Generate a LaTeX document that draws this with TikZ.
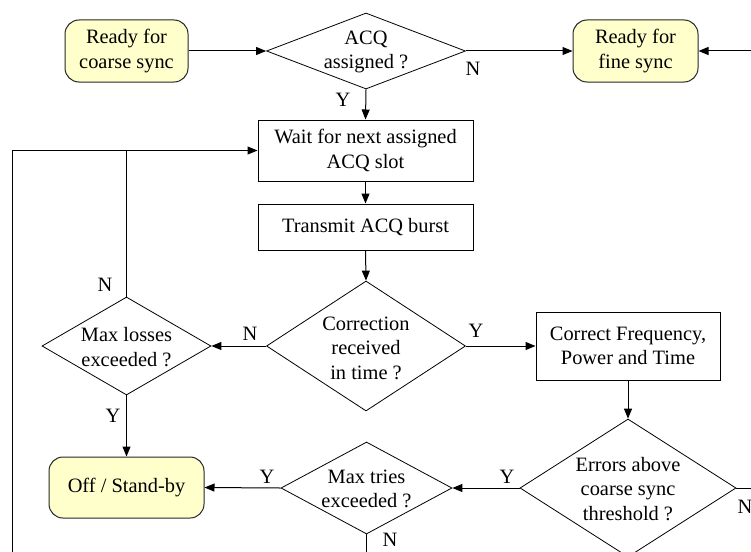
\documentclass[tikz,border=0pt]{standalone}
\usepackage{fontspec}
\setmainfont{Liberation Serif}
\usetikzlibrary{shapes.geometric,arrows.meta}
\definecolor{paleyellow}{RGB}{255,255,204}
\begin{document}
\begin{tikzpicture}[x=1pt,y=-1pt,
  every node/.style={font=\fontsize{20.4}{24.5}\selectfont, inner sep=0pt, align=center},
  line/.style={draw=black, line width=1pt},
  arr/.style={line, -{Triangle[length=10pt,width=8pt]}},
  statebox/.style={draw=black!85, line width=1pt, fill=paleyellow, rounded corners=14pt, rectangle},
  procbox/.style={draw=black, line width=1pt, rectangle},
  decision/.style={draw=black, line width=0.8pt, diamond},
  lbl/.style={anchor=center}
]
\useasboundingbox (0,0) rectangle (751,551);
\clip (0,0) rectangle (751,551);

% shapes
\node[statebox, minimum width=123pt, minimum height=62pt] (coarse) at (126.5,51) {Ready for\\coarse sync};
\node[decision, minimum width=199pt, minimum height=76pt] (acq) at (366,51) {};
\node (acqt) at (366,52) {ACQ\\assigned ?};
\node[statebox, minimum width=125pt, minimum height=62pt] (fine) at (635.5,51) {Ready for\\fine sync};

\node[procbox, minimum width=215pt, minimum height=61pt] (wait) at (365.5,150.5) {Wait for next assigned\\ACQ slot};
\node[procbox, minimum width=215pt, minimum height=46pt] (trans) at (365.5,227) {Transmit ACQ burst};

\node[decision, minimum width=199pt, minimum height=130pt] (corr) at (366,346) {};
\node (corrt) at (366,348) {Correction\\received\\in time ?};

\node[decision, minimum width=169pt, minimum height=98pt] (losses) at (126.5,346) {};
\node (lossest) at (126.5,347) {Max losses\\exceeded ?};

\node[procbox, minimum width=184pt, minimum height=68pt] (freq) at (628,346) {Correct Frequency,\\Power and Time};

\node[statebox, minimum width=155pt, minimum height=61pt] (off) at (126.5,487.5) {Off / Stand-by};

\node[decision, minimum width=171pt, minimum height=92pt] (tries) at (366.5,488) {};
\node (triest) at (366.5,489) {Max tries\\exceeded ?};

\node[decision, minimum width=216pt, minimum height=138pt] (errors) at (628,488) {};
\node (errorst) at (628,489) {Errors above\\coarse sync\\threshold ?};

% free ends
\coordinate (leftbottom) at (12,570);
\coordinate (rightin) at (770,51);
\coordinate (rightout) at (770,488);
\coordinate (triesout) at (366.5,570);

% connectors
\draw[arr] (coarse.east) -- (acq.west);
\draw[arr] (acq.east) -- (fine.west);
\draw[arr] (rightin) -- (fine.east);
\draw[arr] (acq.south) -- (wait.north);
\draw[arr] (wait.south) -- (trans.north);
\draw[arr] (trans.south) -- (corr.north);
\draw[arr] (leftbottom) |- (wait.west);
\draw[line] (losses.north) -- (losses.north |- wait.west);
\draw[arr] (corr.west) -- (losses.east);
\draw[arr] (corr.east) -- (freq.west);
\draw[arr] (losses.south) -- (off.north);
\draw[arr] (freq.south) -- (errors.north);
\draw[arr] (errors.west) -- (tries.east);
\draw[arr] (tries.west) -- (off.east);
\draw[line] (tries.south) -- (triesout);
\draw[line] (errors.east) -- (rightout);

% labels
\node[lbl] (l1) at (343,100) {Y};
\node[lbl] (l2) at (473,69) {N};
\node[lbl] (l3) at (105,285) {N};
\node[lbl] (l4) at (250,334) {N};
\node[lbl] (l5) at (476,331) {Y};
\node[lbl] (l6) at (113,416) {Y};
\node[lbl] (l7) at (267,477) {Y};
\node[lbl] (l8) at (507,477) {Y};
\node[lbl] (l9) at (390,540) {N};
\node[lbl] (l10) at (745,507) {N};
\end{tikzpicture}
\end{document}
